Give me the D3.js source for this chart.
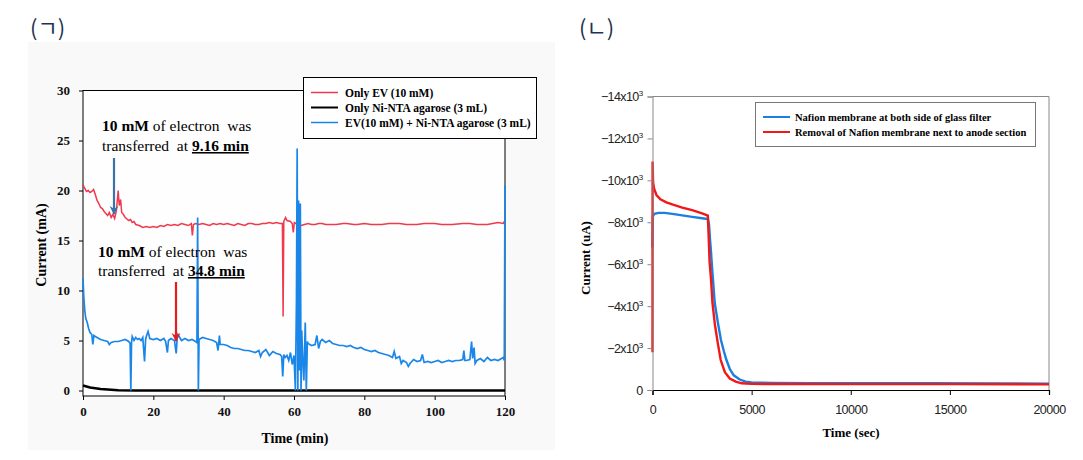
<!DOCTYPE html>
<html><head><meta charset="utf-8">
<script src="https://cdn.jsdelivr.net/npm/d3@7"></script>
<style>
body{margin:0;background:#fff;}
svg{display:block;}
</style></head>
<body>
<svg id="c" width="1083" height="460"></svg>
<script>
// ---------- Panel (ㄱ) data ----------
const leftXTicks = [0, 20, 40, 60, 80, 100, 120];
const leftYTicks = [0, 5, 10, 15, 20, 25, 30];
const leftSeriesNames = ["Only EV (10 mM)", "Only Ni-NTA agarose (3 mL)", "EV(10 mM) + Ni-NTA agarose (3 mL)"];
const onlyEV = [[0,20.6],[0.5,20.2],[1,19.9],[1.5,20.0],[2,19.8],[2.5,19.9],[3,20.1],[3.5,19.6],[4,19.0],[4.5,18.7],[5,18.3],[5.5,18.2],[6,17.9],[6.5,17.7],[7,17.5],[7.5,17.8],[8,17.3],[8.5,17.6],[9,17.2],[9.5,18.0],[10,20.0],[10.3,18.5],[10.7,19.1],[11,17.8],[11.5,17.6],[12,17.3],[13,17.0],[13.5,17.1],[14,16.8],[14.5,16.9],[15,16.6],[16,16.5],[17,16.3],[18,16.4],[19,16.3],[20,16.4],[21,16.3],[22,16.5],[23,16.4],[24,16.6],[25,16.5],[26,16.6],[27,16.5],[28,16.7],[29,16.6],[30,16.5],[30.8,16.7],[31.1,15.5],[31.4,16.6],[32,16.7],[33,16.6],[34,16.7],[35,16.6],[36,16.5],[37,16.7],[38,16.6],[39,16.7],[40,16.6],[41,16.7],[42,16.6],[43,16.5],[44,16.7],[45,16.6],[46,16.5],[47,16.7],[48,16.7],[49,16.6],[50,16.6],[51,16.7],[52,16.7],[53,16.8],[54,16.7],[55,16.8],[56,16.7],[56.7,16.7],[56.9,7.4],[57.1,16.9],[57.6,17.3],[58,17.0],[59,16.9],[59.5,16.7],[59.8,15.8],[60.1,16.8],[61,16.6],[62,16.5],[63,16.6],[64,16.7],[65,16.6],[66,16.6],[67,16.7],[68,16.7],[69,16.6],[70,16.6],[72,16.6],[74,16.7],[75,16.7],[77,16.6],[78,16.6],[80,16.7],[82,16.6],[85,16.6],[87,16.7],[90,16.7],[92,16.6],[95,16.6],[97,16.7],[100,16.7],[102,16.6],[105,16.6],[108,16.7],[110,16.7],[112,16.6],[115,16.6],[118,16.8],[119.5,16.7],[120,17.0]];
const onlyNiNTA = [[0,0.5],[1,0.4],[2,0.3],[3,0.25],[5,0.15],[7,0.1],[10,0.02],[15,0],[60,0],[120,0]];
const evNiNTA = [[0,11.2],[0.2,9.5],[0.5,8.0],[0.8,7.2],[1.2,6.8],[1.6,6.2],[2,5.8],[2.5,5.6],[2.8,4.6],[3.1,5.5],[3.5,5.4],[4,5.3],[5,5.1],[6,5.0],[7,4.9],[7.5,4.6],[8,4.8],[9,4.9],[10,4.9],[11,5.0],[12,5.1],[13,4.9],[13.4,4.7],[13.6,0],[13.8,4.8],[14,5.4],[14.5,5.0],[15,5.3],[15.5,5.1],[16,5.2],[16.5,5.0],[17,5.3],[17.5,2.9],[17.8,5.1],[18,5.4],[18.5,5.9],[19,5.2],[20,5.1],[21,5.2],[22,5.0],[23,5.2],[23.5,4.9],[24,3.8],[24.3,5.0],[25,5.2],[26,5.0],[26.5,3.7],[26.8,5.3],[27,5.6],[28,5.0],[29,5.2],[30,5.0],[31,5.1],[32,4.9],[32.4,4.8],[32.6,17.3],[32.8,0],[33,5.1],[34,5.3],[35,5.2],[36,5.1],[37,5.0],[38,4.8],[38.4,4.0],[38.8,5.5],[39,4.6],[40,4.6],[41,4.5],[42,4.3],[43,4.2],[44,4.2],[45,4.1],[46,4.0],[47,4.0],[48,3.9],[49,3.8],[50,4.0],[50.5,3.4],[51,3.8],[52,4.1],[53,3.5],[54,3.9],[55,3.7],[56,3.6],[56.5,3.4],[56.8,1.4],[57.1,3.6],[57.5,3.3],[58,3.5],[58.5,3.0],[59,3.8],[59.5,2.6],[60,3.5],[60.4,0],[60.7,9],[60.9,24.2],[61.1,0],[61.3,19],[61.5,2],[61.8,18.7],[62,0],[62.2,6],[62.5,3],[62.8,1],[63.2,6.8],[63.5,0],[63.8,4.9],[64,4.7],[65,4.5],[66,4.6],[66.5,5.5],[67,4.2],[67.5,4.9],[68,5.1],[69,4.8],[70,5.0],[71,4.7],[72,4.6],[73,4.5],[74,4.5],[75,4.4],[76,4.5],[77,4.3],[78,4.2],[79,4.3],[80,4.1],[81,4.0],[82,3.9],[83,4.0],[84,3.8],[85,3.7],[86,3.6],[87,3.5],[88,3.3],[88.5,3.9],[89,3.2],[90,3.4],[90.5,2.7],[91,3.0],[92,2.8],[92.5,2.4],[93,2.7],[94,3.1],[95,2.9],[96,3.0],[96.5,3.6],[97,2.8],[98,2.9],[99,2.8],[100,2.9],[101,3.0],[102,2.8],[103,2.9],[104,3.0],[105,2.9],[106,3.0],[107,3.0],[108,3.1],[108.3,4.0],[108.6,3.0],[109,3.0],[110,3.1],[110.5,4.9],[110.8,3.2],[111.2,4.3],[111.5,2.7],[112,3.0],[113,3.2],[114,2.9],[115,3.3],[116,3.0],[117,3.1],[118,3.0],[119,3.2],[119.5,3.3],[119.8,3.0],[120,20.5]];

// ---------- Panel (ㄴ) data ----------
const rightXTicks = [0, 5000, 10000, 15000, 20000];
const rightYTicks = [0, -2000, -4000, -6000, -8000, -10000, -12000, -14000];
const rightSeriesNames = ["Nafion membrane at both side of glass filter", "Removal of Nafion membrane next to anode section"];
const nafionBoth = [[0,-6800],[20,-8300],[100,-8400],[300,-8450],[600,-8450],[1000,-8400],[1500,-8330],[2000,-8260],[2500,-8190],[2800,-8150],[2850,-7900],[2900,-7200],[2950,-6600],[3000,-5900],[3140,-4150],[3300,-3200],[3450,-2400],[3600,-1850],[3730,-1430],[3900,-1000],[4100,-700],[4400,-500],[4700,-400],[5000,-360],[6000,-340],[8000,-330],[10000,-320],[14000,-320],[18000,-310],[20000,-300]];
const nafionRemoved = [[0,-1800],[5,-10900],[30,-9900],[80,-9600],[200,-9300],[400,-9100],[700,-8950],[1000,-8850],[1500,-8700],[2000,-8580],[2500,-8420],[2790,-8320],[2830,-7400],[2880,-6100],[2950,-5300],[3025,-4150],[3150,-3100],[3300,-2200],[3440,-1430],[3650,-850],[3900,-550],[4200,-400],[4500,-320],[5000,-290],[10000,-280],[15000,-280],[20000,-270]];

const svg = d3.select("#c");
const serif = "'Liberation Serif','Times New Roman',serif";
const sans = "'Liberation Sans',Arial,sans-serif";

// ================= Panel (ㄱ) =================
svg.append("rect").attr("x",28).attr("y",42).attr("width",527).attr("height",408).attr("fill","#f9f9f9");
svg.append("text").attr("x",30).attr("y",36).attr("font-family","'Noto Sans CJK KR',sans-serif")
  .attr("font-size",22).attr("fill","#1f3350").text("(ㄱ)");

const L = {left:83, right:505, top:90.5, bottom:396};
const xL = d3.scaleLinear().domain([0,120]).range([L.left, L.right]);
const yL = d3.scaleLinear().domain([0,30]).range([390.5, L.top]);

svg.append("rect").attr("x",L.left).attr("y",L.top).attr("width",L.right-L.left).attr("height",L.bottom-L.top)
  .attr("fill","#fefefe").attr("stroke","#000").attr("stroke-width",1);

const lineL = d3.line().x(d=>xL(d[0])).y(d=>yL(d[1]));
const gL = svg.append("g");
gL.append("path").datum(onlyNiNTA).attr("d",lineL).attr("fill","none").attr("stroke","#000").attr("stroke-width",2.6);
gL.append("path").datum(onlyEV).attr("d",lineL).attr("fill","none").attr("stroke","#ee3a4e").attr("stroke-width",1.5);
gL.append("path").datum(evNiNTA).attr("d",lineL).attr("fill","none").attr("stroke","#1a86e8").attr("stroke-width",1.7);

// axes
const axL = svg.append("g").attr("transform",`translate(0,${L.bottom})`)
  .call(d3.axisBottom(xL).tickValues(leftXTicks).tickSize(4).tickPadding(7));
const ayL = svg.append("g").attr("transform",`translate(${L.left},0)`)
  .call(d3.axisLeft(yL).tickValues(leftYTicks).tickSize(4).tickPadding(9));
[axL, ayL].forEach(a=>{
  a.select(".domain").attr("stroke","#000");
  a.selectAll("line").attr("stroke","#000");
  a.selectAll("text").attr("font-family",serif).attr("font-weight","bold").attr("font-size",13).attr("fill","#111");
});
ayL.select(".domain").remove();
axL.select(".domain").remove();

svg.append("text").attr("x",295).attr("y",443).attr("text-anchor","middle").attr("font-family",serif)
  .attr("font-weight","bold").attr("font-size",14).text("Time (min)");
svg.append("text").attr("transform","translate(46,245) rotate(-90)").attr("text-anchor","middle").attr("font-family",serif)
  .attr("font-weight","bold").attr("font-size",14).text("Current (mA)");

// legend
svg.append("rect").attr("x",303.5).attr("y",77.5).attr("width",233).attr("height",61).attr("fill","#fff").attr("stroke","#000");
const lcol = ["#ee3a4e","#000","#1a86e8"];
leftSeriesNames.forEach((n,i)=>{
  const yy = 92.5 + i*15;
  svg.append("line").attr("x1",311).attr("x2",338).attr("y1",yy).attr("y2",yy).attr("stroke",lcol[i]).attr("stroke-width",i==1?2:1.5);
  svg.append("text").attr("x",345).attr("y",yy+4).attr("font-family",serif).attr("font-weight","bold").attr("font-size",11.5).text(n);
});

// annotations
function annot(x, y, parts){
  const t = svg.append("text").attr("x",x).attr("y",y).attr("font-family",serif).attr("font-size",15.5).style("white-space","pre");
  parts.forEach(p=>{
    const ts = t.append("tspan").text(p[0]);
    if(p[1]) ts.attr("font-weight","bold");
    if(p[2]) ts.attr("text-decoration","underline");
  });
}
annot(102,131,[["10 mM",1],[" of electron  was"]]);
annot(102,151,[["transferred  at "],["9.16 min",1,1]]);
annot(98,257,[["10 mM",1],[" of electron  was"]]);
annot(98,276,[["transferred  at "],["34.8 min",1,1]]);

const defs = svg.append("defs");
function marker(id,color){
  defs.append("marker").attr("id",id).attr("viewBox","0 0 10 10").attr("refX",9).attr("refY",5)
    .attr("markerWidth",4).attr("markerHeight",5).attr("orient","auto")
    .append("path").attr("d","M0,0 L10,5 L0,10 L3,5 Z").attr("fill",color);
}
marker("mb","#3a73aa"); marker("mr","#e81c1c");
svg.append("line").attr("x1",114).attr("y1",158).attr("x2",114).attr("y2",214).attr("stroke","#3a73aa").attr("stroke-width",2.2).attr("marker-end","url(#mb)");
svg.append("line").attr("x1",176).attr("y1",282).attr("x2",176).attr("y2",341).attr("stroke","#e81c1c").attr("stroke-width",2.2).attr("marker-end","url(#mr)");

// ================= Panel (ㄴ) =================
svg.append("text").attr("x",579).attr("y",36).attr("font-family","'Noto Sans CJK KR',sans-serif")
  .attr("font-size",22).attr("fill","#1f3350").text("(ㄴ)");

const R = {left:652.5, right:1049, top:96.5, bottom:390};
const xR = d3.scaleLinear().domain([0,20000]).range([R.left, R.right]);
const yR = d3.scaleLinear().domain([0,-14000]).range([R.bottom, R.top]);

svg.append("line").attr("x1",R.left).attr("x2",R.right).attr("y1",R.top).attr("y2",R.top).attr("stroke","#888");
svg.append("line").attr("x1",R.right).attr("x2",R.right).attr("y1",R.top).attr("y2",R.bottom).attr("stroke","#888");

const lineR = d3.line().x(d=>xR(d[0])).y(d=>yR(d[1]));
svg.append("path").datum(nafionBoth).attr("d",lineR).attr("fill","none").attr("stroke","#1c7fe0").attr("stroke-width",2.4);
svg.append("path").datum(nafionRemoved).attr("d",lineR).attr("fill","none").attr("stroke","#f21818").attr("stroke-width",2.4);

const axR = svg.append("g").attr("transform",`translate(0,${R.bottom})`)
  .call(d3.axisBottom(xR).tickValues(rightXTicks).tickSize(5).tickPadding(10).tickFormat(d3.format("d")));
axR.select(".domain").attr("stroke","#000").attr("stroke-width",1.2);
axR.selectAll("line").attr("stroke","#000");
axR.selectAll("text").attr("font-family",sans).attr("font-size",12.5).attr("fill","#222").attr("letter-spacing","-0.5");

const ayR = svg.append("g").attr("transform",`translate(${R.left},0)`)
  .call(d3.axisLeft(yR).tickValues(rightYTicks).tickSize(5).tickPadding(5).tickFormat(()=>""));
ayR.select(".domain").attr("stroke","#888");
ayR.selectAll("line").attr("stroke","#888");
ayR.selectAll(".tick text").each(function(d){
  const t = d3.select(this).attr("font-family",sans).attr("font-size",12.5).attr("fill","#222").attr("letter-spacing","-0.6");
  if(d===0){ t.text("0"); return; }
  t.append("tspan").text(d3.format("d")(d/1000)+"x10");
  t.append("tspan").attr("font-size",8).attr("dy",-5).text("3");
});
ayR.selectAll(".tick text").attr("dy","0.32em");

svg.append("text").attr("x",851).attr("y",437).attr("text-anchor","middle").attr("font-family",serif)
  .attr("font-weight","bold").attr("font-size",13).text("Time (sec)");
svg.append("text").attr("transform","translate(590,258) rotate(-90)").attr("text-anchor","middle").attr("font-family",serif)
  .attr("font-weight","bold").attr("font-size",13).text("Current (uA)");

svg.append("rect").attr("x",755.5).attr("y",102.5).attr("width",280).attr("height",44).attr("fill","#fff").attr("stroke","#777");
const rcol = ["#1c7fe0","#f21818"];
rightSeriesNames.forEach((n,i)=>{
  const yy = 117 + i*15;
  svg.append("line").attr("x1",763).attr("x2",790).attr("y1",yy).attr("y2",yy).attr("stroke",rcol[i]).attr("stroke-width",2);
  svg.append("text").attr("x",795).attr("y",yy+3.5).attr("font-family",serif).attr("font-weight","bold").attr("font-size",10.5).text(n);
});
</script>
</body></html>
